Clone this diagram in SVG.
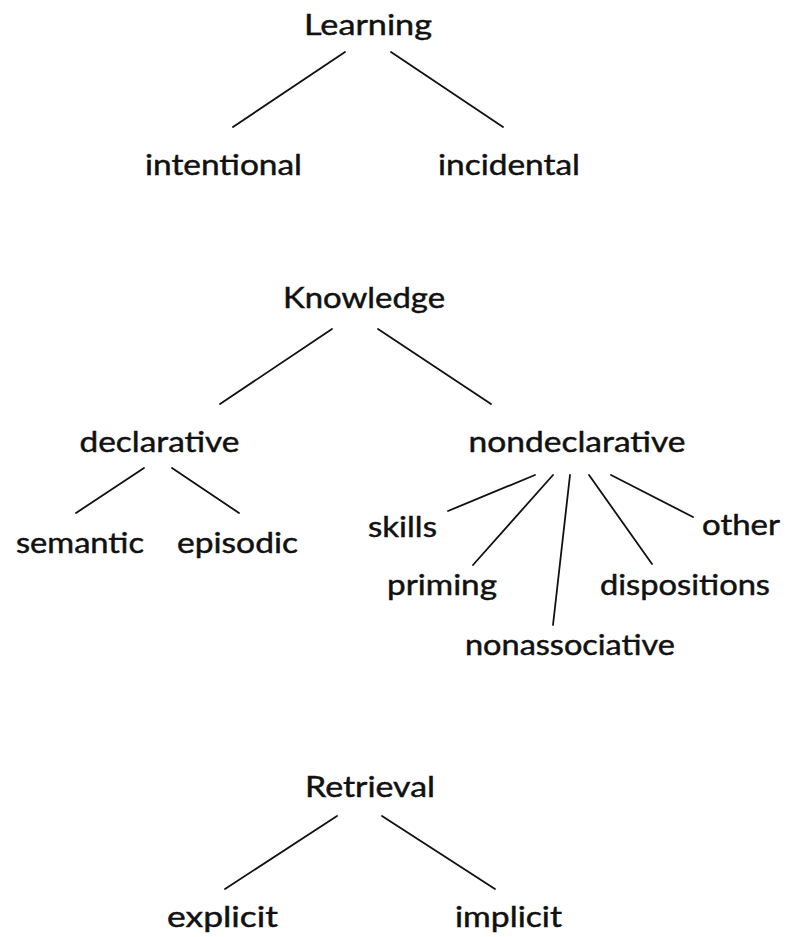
<svg xmlns="http://www.w3.org/2000/svg" width="788" height="937" viewBox="0 0 788 937">
<style>
text{font-family:Lato,"Open Sans","Liberation Sans",sans-serif;font-size:28px;fill:#111;stroke:#111;stroke-width:0.45;text-anchor:middle}
.c line{stroke:#111;stroke-width:1.8;stroke-linecap:round}
</style>
<rect width="788" height="937" fill="#fff"/>
<g class="c" id="connectors">
<line x1="345" y1="52" x2="233" y2="127"/>
<line x1="391" y1="52" x2="503" y2="127"/>
<line x1="332" y1="329" x2="220" y2="404"/>
<line x1="378" y1="329" x2="491" y2="404"/>
<line x1="144" y1="468" x2="76" y2="513"/>
<line x1="172" y1="468" x2="239" y2="513"/>
<line x1="535" y1="475" x2="448" y2="511"/>
<line x1="553" y1="475" x2="473" y2="565"/>
<line x1="570" y1="475" x2="553" y2="625"/>
<line x1="589" y1="475" x2="652" y2="564"/>
<line x1="611" y1="475" x2="693" y2="517"/>
<line x1="337" y1="816" x2="225" y2="889"/>
<line x1="382" y1="816" x2="495" y2="889"/>
</g>
<g id="learning"><text x="368" y="35" textLength="128" lengthAdjust="spacingAndGlyphs">Learning</text></g>
<g id="intentional"><text x="223.5" y="175" textLength="157" lengthAdjust="spacingAndGlyphs">intentional</text></g>
<g id="incidental"><text x="509" y="175" textLength="142" lengthAdjust="spacingAndGlyphs">incidental</text></g>
<g id="knowledge"><text x="364" y="308" textLength="162" lengthAdjust="spacingAndGlyphs">Knowledge</text></g>
<g id="declarative"><text x="159.5" y="452" textLength="160" lengthAdjust="spacingAndGlyphs">declarative</text></g>
<g id="nondeclarative"><text x="577" y="452" textLength="217" lengthAdjust="spacingAndGlyphs">nondeclarative</text></g>
<g id="semantic"><text x="80" y="553" textLength="128" lengthAdjust="spacingAndGlyphs">semantic</text></g>
<g id="episodic"><text x="237.5" y="553" textLength="121" lengthAdjust="spacingAndGlyphs">episodic</text></g>
<g id="skills"><text x="402.5" y="537" textLength="69" lengthAdjust="spacingAndGlyphs">skills</text></g>
<g id="other"><text x="741" y="535" textLength="78" lengthAdjust="spacingAndGlyphs">other</text></g>
<g id="priming"><text x="442" y="595" textLength="110" lengthAdjust="spacingAndGlyphs">priming</text></g>
<g id="dispositions"><text x="685" y="595" textLength="170" lengthAdjust="spacingAndGlyphs">dispositions</text></g>
<g id="nonassociative"><text x="570" y="655" textLength="210" lengthAdjust="spacingAndGlyphs">nonassociative</text></g>
<g id="retrieval"><text x="370" y="797" textLength="130" lengthAdjust="spacingAndGlyphs">Retrieval</text></g>
<g id="explicit"><text x="222.5" y="927" textLength="111" lengthAdjust="spacingAndGlyphs">explicit</text></g>
<g id="implicit"><text x="508.5" y="927" textLength="107" lengthAdjust="spacingAndGlyphs">implicit</text></g>
</svg>
